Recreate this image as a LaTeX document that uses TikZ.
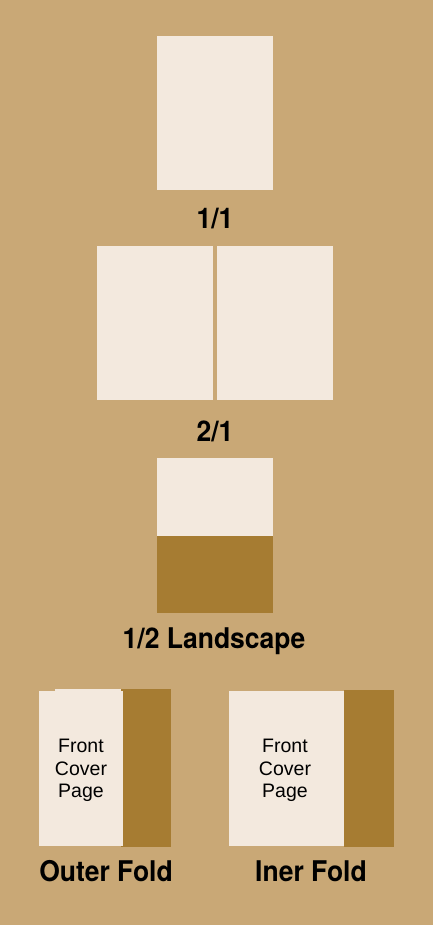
\documentclass[tikz,border=0pt]{standalone}
\usepackage{fontspec}
\setmainfont{Liberation Sans}
\newfontfamily\headfont[FakeStretch=0.93]{TeX Gyre Heros}
\definecolor{bgtan}{RGB}{201,168,118}
\definecolor{pagecream}{RGB}{243,233,222}
\definecolor{foldbrown}{RGB}{166,124,50}
\tikzset{
  pagefill/.style={fill=pagecream},
  foldfill/.style={fill=foldbrown},
  caption/.style={font=\headfont\bfseries\fontsize{28.5bp}{30bp}\selectfont, anchor=base, inner sep=0pt},
  covertext/.style={font=\fontsize{19.5bp}{22.6bp}\selectfont, align=center, inner sep=0pt}
}
\begin{document}
\begin{tikzpicture}[x=1bp, y=-1bp]
    \fill[bgtan] (0,0) rectangle (433,925);
    % single page
    \fill[pagefill] (157,36) rectangle (273,190);
    \node[caption] (single) at (215,228) {1/1};
    % double page
    \foreach \x in {97,217}
    {
        \fill[pagefill] (\x,246) rectangle +(116,154);
    }
    \node[caption] (double) at (215,441.5) {2/1};
    % half landscape
    \fill[pagefill] (157,458) rectangle (273,536);
    \fill[foldfill] (157,536) rectangle (273,613);
    \node[caption] (landscape) at (214,648) {1/2 Landscape};
    % outer fold
    \fill[foldfill] (121,689) rectangle (171,847);
    \fill[pagefill] (39,691) rectangle (123,846);
    \fill[pagefill] (55,689) rectangle (121,691);
    \node[covertext] (outercover) at (81,770.5) {Front\\Cover\\Page};
    \node[caption] (outer) at (106,881) {Outer Fold};
    % inner fold
    \fill[foldfill] (344,690) rectangle (394,847);
    \fill[pagefill] (229,691) rectangle (344,846);
    \node[covertext] (innercover) at (285,770.5) {Front\\Cover\\Page};
    \node[caption] (inner) at (311,881) {Iner Fold};
\end{tikzpicture}
\end{document}
